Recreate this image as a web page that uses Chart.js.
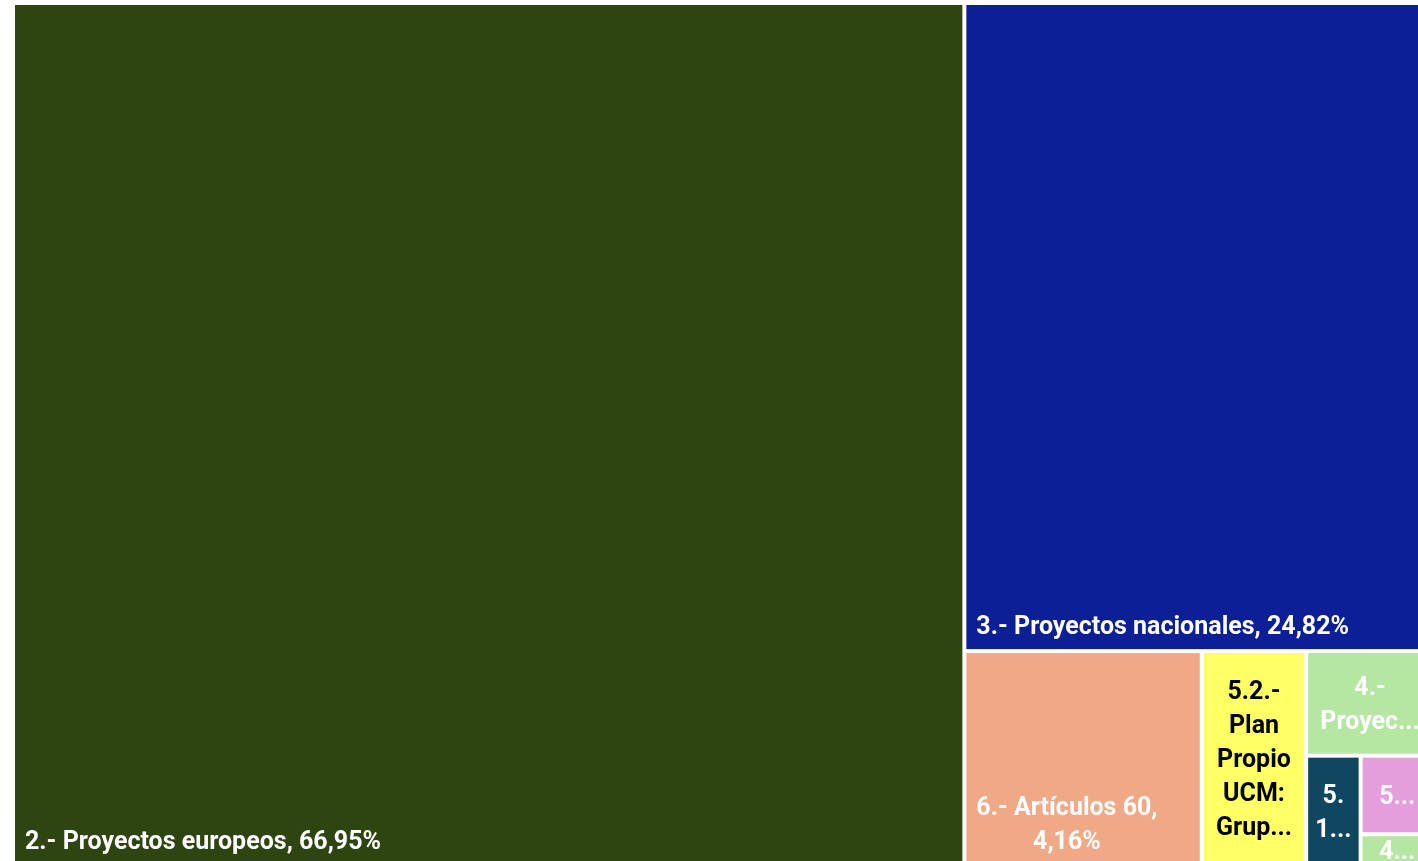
<!DOCTYPE html>
<html>
<head>
<meta charset="utf-8">
<script src="https://cdn.jsdelivr.net/npm/chart.js@4"></script>
<style>
html, body { margin: 0; padding: 0; overflow: hidden; background: #fff; }
canvas { display: block; }
</style>
</head>
<body>
<canvas id="treemap" width="1450" height="880"></canvas>
<script>
// categories and their share of the total (%), in drawing order
const categories = [
	'2.- Proyectos europeos',
	'3.- Proyectos nacionales',
	'6.- Artículos 60',
	'5.2.- Plan Propio UCM: Grupos de investigación',
	'4.- Proyectos regionales',
	'5.1.- Plan Propio UCM: Proyectos',
	'5.3.- Plan Propio UCM: Otros',
	'4.1.- Otros proyectos'
];
const shares = [66.95, 24.82, 4.16, 1.83, 1.09, 0.49, 0.47, 0.19];

const fillColors = ['#2E4511', '#0C1F96', '#F0A986', '#FFFF66', '#B5E6A2', '#114660', '#E49EDC', '#B5E6A2'];
const textColors = ['#fff', '#fff', '#fff', '#000', '#fff', '#fff', '#fff', '#fff'];

const FONT_SIZE = 25;
const LINE_H = 34;
const PAD = 10;
const GAP = 2;

function fmtPct(v) {
	return v.toFixed(2).replace('.', ',') + '%';
}

// word wrap with char breaking and ellipsis, roughly like the office treemap
function wrapText(ctx, text, maxW, maxLines) {
	const words = text.split(' ');
	const lines = [];
	let cur = '';
	words.forEach(w => {
		const trial = cur ? cur + ' ' + w : w;
		if (ctx.measureText(trial).width <= maxW) { cur = trial; return; }
		if (cur) lines.push(cur);
		if (ctx.measureText(w).width <= maxW) { cur = w; return; }
		let piece = '';
		for (const ch of w) {
			if (piece && ctx.measureText(piece + ch).width > maxW) { lines.push(piece); piece = ch; }
			else piece += ch;
		}
		cur = piece;
	});
	if (cur) lines.push(cur);
	let truncated = false;
	if (lines.length > maxLines) {
		truncated = true;
		lines.length = maxLines;
		let s = lines[maxLines - 1];
		while (s.length > 1 && ctx.measureText(s + '...').width > maxW) s = s.slice(0, -1);
		s = s.replace(/[\s.,:\-]+$/, '') || s;
		lines[maxLines - 1] = s + '...';
	}
	return { lines, truncated };
}

const treemapPlugin = {
	id: 'treemap',
	afterDatasetsDraw(chart) {
		const { ctx, chartArea, scales: { x, y } } = chart;
		const pxW = chartArea.right - chartArea.left;
		const pxH = chartArea.bottom - chartArea.top;
		let rx = 0, ry = 0, rw = 1, rh = 1;
		let rest = shares.reduce((a, b) => a + b, 0);

		ctx.save();
		ctx.font = 'bold ' + FONT_SIZE + 'px Roboto';
		shares.forEach((v, i) => {
			const f = v / rest;
			let c;
			// cut a strip across the longer side of what is left
			if (rw * pxW >= rh * pxH) {
				c = { x0: rx, y0: ry, x1: rx + rw * f, y1: ry + rh };
				rx += rw * f; rw -= rw * f;
			} else {
				c = { x0: rx, y0: ry, x1: rx + rw, y1: ry + rh * f };
				ry += rh * f; rh -= rh * f;
			}
			rest -= v;

			const left = x.getPixelForValue(c.x0) + GAP;
			const right = x.getPixelForValue(c.x1) - GAP;
			const top = y.getPixelForValue(c.y0) + GAP;
			const bottom = y.getPixelForValue(c.y1) - GAP;
			const w = right - left, h = bottom - top;

			ctx.fillStyle = fillColors[i];
			ctx.fillRect(left, top, w, h);

			const label = categories[i] + ', ' + fmtPct(v);
			const maxLines = Math.max(1, Math.floor((h - 2 * PAD) / LINE_H));
			const { lines, truncated } = wrapText(ctx, label, w - 2 * PAD, maxLines);
			const cap = FONT_SIZE * 0.711;
			ctx.fillStyle = textColors[i];
			ctx.textAlign = 'center';
			ctx.textBaseline = 'alphabetic';
			const n = lines.length;
			if (truncated) {
				const cx = (left + right) / 2, cy = (top + bottom) / 2;
				lines.forEach((ln, k) => {
					const my = cy - n * LINE_H / 2 + k * LINE_H + LINE_H / 2;
					ctx.fillText(ln, cx, my + cap / 2);
				});
			} else {
				const bw = Math.max(...lines.map(ln => ctx.measureText(ln).width));
				const cx = left + PAD + bw / 2;
				lines.forEach((ln, k) => {
					const my = bottom - 24 - (n - 1 - k) * LINE_H;
					ctx.fillText(ln, cx, my + cap / 2);
				});
			}
		});
		ctx.restore();
	}
};

new Chart(document.getElementById('treemap'), {
	type: 'scatter',
	data: {
		datasets: [{ data: [] }]
	},
	options: {
		responsive: false,
		animation: false,
		layout: {
			padding: { left: 13, top: 3, right: 16, bottom: 14 }
		},
		plugins: {
			legend: { display: false },
			tooltip: { enabled: false }
		},
		scales: {
			x: { type: 'linear', min: 0, max: 1, display: false },
			y: { type: 'linear', min: 0, max: 1, reverse: true, display: false }
		}
	},
	plugins: [treemapPlugin]
});
</script>
</body>
</html>
